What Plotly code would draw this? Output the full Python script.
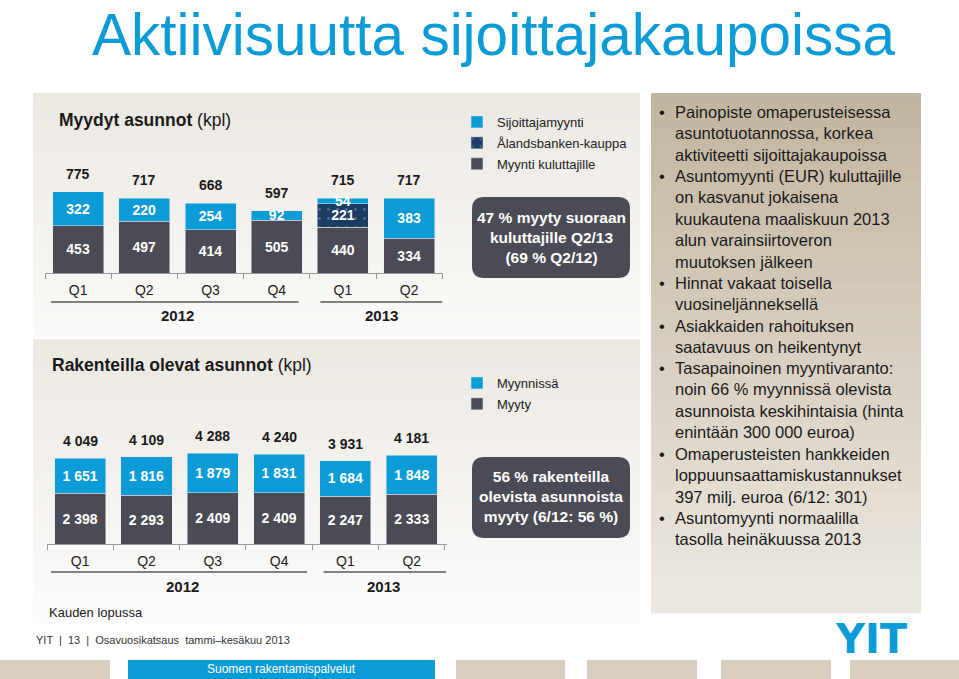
"""
Slide: Aktiivisuutta sijoittajakaupoissa

Two stacked bar charts (sold and under-construction apartments)
with legends, callout boxes and a bullet panel.
"""

import plotly.graph_objects as go

# -------------------------------------------------
# DATA
# -------------------------------------------------

periods = ["Q1 2012", "Q2 2012", "Q3 2012", "Q4 2012", "Q1 2013", "Q2 2013"]
quarters = ["Q1", "Q2", "Q3", "Q4", "Q1", "Q2"]

sold_consumers = [453, 497, 414, 505, 440, 334]
sold_alandsbanken = [None, None, None, None, 221, None]
sold_investors = [322, 220, 254, 92, 54, 383]

uc_sold = [2398, 2293, 2409, 2409, 2247, 2333]
uc_for_sale = [1651, 1816, 1879, 1831, 1684, 1848]

bullets = [
    ["Painopiste omaperusteisessa", "asuntotuotannossa, korkea",
     "aktiviteetti sijoittajakaupoissa"],
    ["Asuntomyynti (EUR) kuluttajille", "on kasvanut jokaisena",
     "kuukautena maaliskuun 2013", "alun varainsiirtoveron",
     "muutoksen jälkeen"],
    ["Hinnat vakaat toisella", "vuosineljänneksellä"],
    ["Asiakkaiden rahoituksen", "saatavuus on heikentynyt"],
    ["Tasapainoinen myyntivaranto:", "noin 66 % myynnissä olevista",
     "asunnoista keskihintaisia (hinta", "enintään 300 000 euroa)"],
    ["Omaperusteisten hankkeiden", "loppuunsaattamiskustannukset",
     "397 milj. euroa (6/12: 301)"],
    ["Asuntomyynti normaalilla", "tasolla heinäkuussa 2013"],
]

# -------------------------------------------------
# STYLE
# -------------------------------------------------

W, H = 959, 679
BLUE = "#0b9bd7"
DARK = "#4b4b55"
NAVY = "#1b3d63"
FONT = "Liberation Sans, Arial, sans-serif"


def px(x):
    return x / W


def py(y):
    return 1 - y / H


def mix(c1, c2, t):
    a = [int(c1[i:i + 2], 16) for i in (1, 3, 5)]
    b = [int(c2[i:i + 2], 16) for i in (1, 3, 5)]
    return "rgb(%d,%d,%d)" % tuple(round(a[k] + (b[k] - a[k]) * t) for k in range(3))


def gradient(x0, y0, x1, y1, top, bottom, steps=30):
    out = []
    h = (y1 - y0) / steps
    for i in range(steps):
        out.append(dict(
            type="rect", xref="paper", yref="paper", layer="below",
            x0=px(x0), x1=px(x1), y0=py(y0 + i * h), y1=py(y0 + (i + 1) * h + 0.6),
            fillcolor=mix(top, bottom, i / (steps - 1)), line=dict(width=0),
        ))
    return out


def rounded(x0, y0, x1, y1, r, color):
    pts = (
        f"M {px(x0 + r)},{py(y0)} L {px(x1 - r)},{py(y0)} "
        f"Q {px(x1)},{py(y0)} {px(x1)},{py(y0 + r)} L {px(x1)},{py(y1 - r)} "
        f"Q {px(x1)},{py(y1)} {px(x1 - r)},{py(y1)} L {px(x0 + r)},{py(y1)} "
        f"Q {px(x0)},{py(y1)} {px(x0)},{py(y1 - r)} L {px(x0)},{py(y0 + r)} "
        f"Q {px(x0)},{py(y0)} {px(x0 + r)},{py(y0)} Z"
    )
    return dict(type="path", path=pts, xref="paper", yref="paper",
                fillcolor=color, line=dict(width=0), layer="above")


def text(x, y, s, size, color="#1a1a1a", bold=False, family=FONT,
         xanchor="left", yanchor="middle", xref="paper", yref="paper",
         align="left", yshift=0):
    return dict(
        x=x, y=y, xref=xref, yref=yref, text=f"<b>{s}</b>" if bold else s,
        showarrow=False, xanchor=xanchor, yanchor=yanchor, align=align,
        yshift=yshift, font=dict(family=family, size=size, color=color),
    )


# -------------------------------------------------
# FIGURE
# -------------------------------------------------

fig = go.Figure()

bar_style = dict(
    texttemplate="%{y:,}", textposition="inside", insidetextanchor="middle",
    textangle=0, textfont=dict(family=FONT, size=14, color="white", weight="bold"),
    hoverinfo="skip",
)

fig.add_trace(go.Bar(x=periods, y=sold_consumers, name="Myynti kuluttajille",
                     marker=dict(color=DARK), legend="legend", legendgroup="a",
                     legendrank=3, xaxis="x", yaxis="y", **bar_style))
fig.add_trace(go.Bar(x=periods, y=sold_alandsbanken, name="Ålandsbanken-kauppa",
                     marker=dict(color=NAVY, pattern=dict(shape=".", fgcolor="#7f9dbd",
                                                          bgcolor=NAVY, size=9, solidity=0.08)),
                     legend="legend", legendgroup="b", legendrank=2,
                     xaxis="x", yaxis="y", **bar_style))
fig.add_trace(go.Bar(x=periods, y=sold_investors, name="Sijoittajamyynti",
                     marker=dict(color=BLUE), legend="legend", legendgroup="c",
                     legendrank=1, xaxis="x", yaxis="y", **bar_style))

fig.add_trace(go.Bar(x=periods, y=uc_sold, name="Myyty",
                     marker=dict(color=DARK), legend="legend2", legendgroup="d",
                     legendrank=2, xaxis="x2", yaxis="y2", **bar_style))
fig.add_trace(go.Bar(x=periods, y=uc_for_sale, name="Myynnissä",
                     marker=dict(color=BLUE), legend="legend2", legendgroup="e",
                     legendrank=1, xaxis="x2", yaxis="y2", **bar_style))

shapes = []
shapes += gradient(33, 93, 640, 337, "#ece8e2", "#fbfaf8")
shapes += gradient(33, 339, 640, 622, "#ece8e2", "#fdfcfb")
shapes += gradient(651, 93, 921, 613, "#c3b6a0", "#ece8e1")

shapes.append(rounded(472, 197, 630, 278, 12, DARK))
shapes.append(rounded(472, 457, 630, 538, 12, DARK))

# year underlines
for xr, a, b, y in [("x", -0.41, 3.33, 302), ("x", 3.66, 5.5, 302),
                    ("x2", -0.44, 3.42, 572), ("x2", 3.67, 5.52, 572)]:
    shapes.append(dict(type="line", xref=xr, yref="paper", x0=a, x1=b,
                       y0=py(y), y1=py(y), line=dict(color="#5a5a5a", width=1.5)))

# bottom tabs
for x0, x1 in [(0, 110), (456, 565), (587, 697), (721, 831), (850, 959)]:
    shapes.append(dict(type="rect", xref="paper", yref="paper", x0=px(x0), x1=px(x1),
                       y0=py(679), y1=py(660), fillcolor="#d9cfc0", line=dict(width=0)))
shapes.append(dict(type="rect", xref="paper", yref="paper", x0=px(128), x1=px(435),
                   y0=py(679), y1=py(660), fillcolor=BLUE, line=dict(width=0)))

ann = []
ann.append(text(px(494), py(0), "Aktiivisuutta sijoittajakaupoissa", 58.5,
                color=BLUE, xanchor="center", yanchor="top"))
ann.append(text(px(57), py(120), "<b>Myydyt asunnot</b> (kpl)", 17.5))
ann.append(text(px(50), py(365), "<b>Rakenteilla olevat asunnot</b> (kpl)", 17.5))

# totals above bars
for i, p in enumerate(periods):
    t1 = sold_consumers[i] + (sold_alandsbanken[i] or 0) + sold_investors[i]
    ann.append(text(p, t1, f"{t1:,}".replace(",", " "), 14, bold=True, xanchor="center",
                    yanchor="bottom", xref="x", yref="y", yshift=8))
    t2 = uc_sold[i] + uc_for_sale[i]
    ann.append(text(p, t2, f"{t2:,}".replace(",", " "), 14, bold=True, xanchor="center",
                    yanchor="bottom", xref="x2", yref="y2", yshift=7))

# year labels
for xr, x, y, s in [("x", 1.5, 315, "2012"), ("x", 4.58, 315, "2013"),
                    ("x2", 1.55, 586, "2012"), ("x2", 4.58, 586, "2013")]:
    ann.append(text(x, py(y), s, 15, bold=True, xanchor="center", xref=xr))

ann.append(text(px(551), py(237), "47 % myyty suoraan<br>kuluttajille Q2/13<br>(69 % Q2/12)",
                15.5, color="white", bold=True, xanchor="center", align="center"))
ann.append(text(px(551), py(496), "56 % rakenteilla<br>olevista asunnoista<br>myyty (6/12: 56 %)",
                15.5, color="white", bold=True, xanchor="center", align="center"))

# bullet list
line_h = 21.35
row = 0
for item in bullets:
    y_top = 101 + row * line_h
    ann.append(text(px(657), py(y_top), "•", 16.5, xanchor="left", yanchor="top"))
    ann.append(text(px(673), py(y_top), "<br>".join(item), 16.5, xanchor="left", yanchor="top"))
    row += len(item)

ann.append(text(px(47), py(612), "Kauden lopussa", 13))
ann.append(text(px(34), py(640), "YIT  |  13  |  Osavuosikatsaus  tammi–kesäkuu 2013", 11,
                color="#333333"))
ann.append(text(px(281), py(669), "Suomen rakentamispalvelut", 12, color="white",
                xanchor="center"))
ann.append(text(px(871), py(639), "YIT", 40, color=BLUE, bold=True,
                family="DejaVu Sans, sans-serif", xanchor="center"))

axis_x = dict(
    type="category", showline=True, linecolor="#9a9a9a", linewidth=1,
    ticks="outside", tickson="boundaries", ticklen=5, tickcolor="#9a9a9a",
    ticklabelstandoff=4,
    tickvals=periods, ticktext=quarters, showgrid=False, zeroline=False,
    tickfont=dict(family=FONT, size=14, color="#222222"),
)
axis_y = dict(visible=False, showgrid=False, zeroline=False)

legend_style = dict(
    xanchor="left", yanchor="top", traceorder="grouped", tracegroupgap=1,
    bgcolor="rgba(0,0,0,0)", font=dict(family=FONT, size=13, color="#222222"),
)

fig.update_layout(
    width=W, height=H,
    margin=dict(l=0, r=0, t=0, b=0),
    paper_bgcolor="white", plot_bgcolor="rgba(0,0,0,0)",
    barmode="stack", bargap=0.23,
    separators=", ",
    uniformtext=dict(mode="show", minsize=14),
    xaxis=dict(domain=[px(45), px(443)], anchor="y", **axis_x),
    yaxis=dict(domain=[py(273), py(160)], range=[0, 1081], anchor="x", **axis_y),
    xaxis2=dict(domain=[px(47), px(447)], anchor="y2", **axis_x),
    yaxis2=dict(domain=[py(544), py(430)], range=[0, 5372], anchor="x2", **axis_y),
    legend=dict(x=px(457), y=py(107), **legend_style),
    legend2=dict(x=px(457), y=py(368), **legend_style),
    shapes=shapes,
    annotations=ann,
    showlegend=True,
)

fig.write_html(
    "out.html",
    config={"displayModeBar": False},
    post_script="document.body.style.margin='0';",
)
